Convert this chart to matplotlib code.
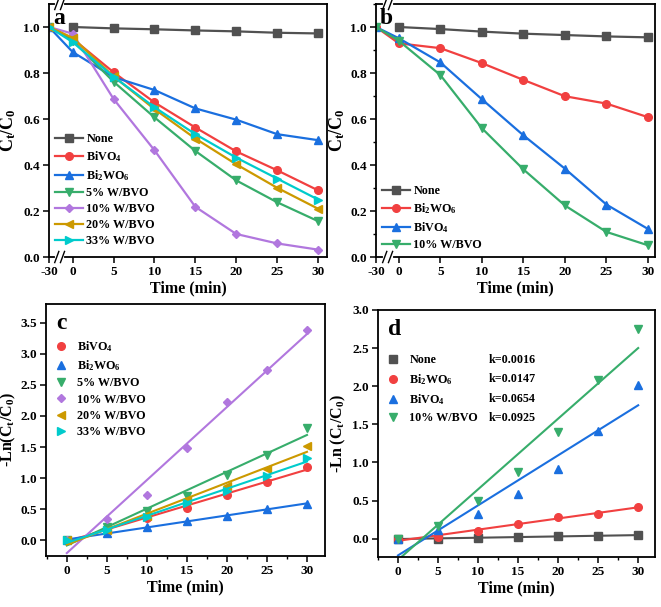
import numpy as np
import matplotlib
matplotlib.use("Agg")
import matplotlib.pyplot as plt
from matplotlib.ticker import MultipleLocator

plt.rcParams['font.family'] = 'serif'
plt.rcParams['font.serif'] = ['Liberation Serif', 'DejaVu Serif']
plt.rcParams['font.weight'] = 'bold'
plt.rcParams['axes.labelweight'] = 'bold'
plt.rcParams['mathtext.fontset'] = 'custom'
plt.rcParams['mathtext.rm'] = 'Liberation Serif:bold'
plt.rcParams['mathtext.bf'] = 'Liberation Serif:bold'
plt.rcParams['mathtext.it'] = 'Liberation Serif:bold:italic'

# ---- data ----
time_ab = [-30, 0, 5, 10, 15, 20, 25, 30]
time_cd = [0, 5, 10, 15, 20, 25, 30]
xticklabels_ab = ['-30', '0', '5', '10', '15', '20', '25', '30']

# panel a: Ct/C0 (None has no dark point at -30)
a_none = [1.0, 0.994, 0.990, 0.985, 0.981, 0.975, 0.972]
a_bivo4 = [1.0, 0.949, 0.803, 0.672, 0.563, 0.459, 0.377, 0.290]
a_bi2wo6 = [1.0, 0.891, 0.782, 0.726, 0.646, 0.597, 0.534, 0.508]
a_w5 = [1.0, 0.941, 0.762, 0.607, 0.461, 0.333, 0.238, 0.156]
a_w10 = [1.0, 0.971, 0.687, 0.464, 0.218, 0.100, 0.059, 0.032]
a_w20 = [1.0, 0.953, 0.785, 0.643, 0.515, 0.403, 0.301, 0.210]
a_w33 = [1.0, 0.934, 0.784, 0.651, 0.534, 0.432, 0.341, 0.250]

# panel b: Ct/C0
b_none = [1.0, 0.991, 0.980, 0.971, 0.965, 0.959, 0.955]
b_bi2wo6 = [1.0, 0.929, 0.908, 0.843, 0.770, 0.699, 0.667, 0.608]
b_bivo4 = [1.0, 0.951, 0.846, 0.686, 0.529, 0.384, 0.228, 0.122]
b_w10 = [1.0, 0.940, 0.791, 0.560, 0.381, 0.224, 0.109, 0.051]

# panel c: -ln(Ct/C0)
c_bivo4 = [0.0, 0.20, 0.36, 0.52, 0.73, 0.94, 1.18]
c_bi2wo6 = [0.0, 0.12, 0.21, 0.32, 0.40, 0.51, 0.58]
c_w5 = [0.0, 0.22, 0.48, 0.72, 1.05, 1.38, 1.80]
c_w10 = [0.0, 0.34, 0.73, 1.49, 2.22, 2.74, 3.38]
c_w20 = [0.0, 0.17, 0.40, 0.65, 0.87, 1.15, 1.51]
c_w33 = [0.0, 0.17, 0.38, 0.60, 0.80, 1.03, 1.32]

# panel d: -ln(Ct/C0)
d_none = [0.0, 0.0, 0.01, 0.02, 0.035, 0.04, 0.045]
d_bi2wo6 = [0.0, 0.025, 0.10, 0.19, 0.28, 0.33, 0.42]
d_bivo4 = [0.0, 0.12, 0.33, 0.58, 0.91, 1.41, 2.01]
d_w10 = [0.0, 0.17, 0.50, 0.88, 1.40, 2.08, 2.75]
d_k = ['k=0.0016', 'k=0.0147', 'k=0.0654', 'k=0.0925']

GRAY = '#515151'
RED = '#F14040'
BLUE = '#1A6FDF'
GREEN = '#37AD6B'
PURPLE = '#B177DE'
GOLD = '#CC9900'
CYAN = '#00CBCC'

W, H = 661, 607
fig = plt.figure(figsize=(W / 100, H / 100), dpi=100)

LEG_FS = 8.7


def box(l, t, r, b):
    return fig.add_axes([l / W, 1 - b / H, (r - l) / W, (b - t) / H])


def style(ax):
    for s in ax.spines.values():
        s.set_linewidth(1.3)
    ax.tick_params(direction='out', length=4, width=1.1, labelsize=9.5, pad=2.5)
    ax.tick_params(which='minor', direction='out', length=2.5, width=1)


def brk_x(t, pos):
    t = np.asarray(t, dtype=float)
    return np.where(t < 0, pos, t)


def draw_break(ax, xc):
    tr = ax.get_xaxis_transform()
    for yy in (0.0, 1.0):
        ax.plot([xc - 0.35, xc + 0.35], [yy, yy], color='white', lw=3,
                transform=tr, clip_on=False, zorder=5)
        for dx in (-0.35, 0.35):
            ax.plot([xc + dx - 0.25, xc + dx + 0.25], [yy - 0.022, yy + 0.022],
                    color='black', lw=1, transform=tr, clip_on=False, zorder=6)


# ---- panel a ----
axa = box(49, 4, 327, 257)
posa = -2.9
ta = brk_x(time_ab, posa)
kw = dict(lw=1.6, ms=5.5)
axa.plot(ta[1:], a_none, '-s', color=GRAY, label='None', **kw)
axa.plot(ta, a_bivo4, '-o', color=RED, label='BiVO$_4$', **kw)
axa.plot(ta, a_bi2wo6, '-^', color=BLUE, label='Bi$_2$WO$_6$', **kw)
axa.plot(ta, a_w5, '-v', color=GREEN, label='5% W/BVO', **kw)
axa.plot(ta, a_w10, '-D', color=PURPLE, label='10% W/BVO', lw=1.6, ms=4.5)
axa.plot(ta, a_w20, '-<', color=GOLD, label='20% W/BVO', **kw)
axa.plot(ta, a_w33, '->', color=CYAN, label='33% W/BVO', **kw)
axa.set_xlim(posa, 31.1)
axa.set_ylim(0, 1.1)
axa.set_xticks(brk_x(time_ab, posa))
axa.set_xticklabels(xticklabels_ab)
axa.set_yticks([0, 0.2, 0.4, 0.6, 0.8, 1.0])
axa.set_xlabel('Time (min)', fontsize=11.5, labelpad=2)
axa.set_ylabel('C$_\\mathrm{t}$/C$_0$', fontsize=13)
axa.yaxis.set_label_coords(-0.11, 0.5)
style(axa)
draw_break(axa, -1.6)
axa.legend(loc='lower left', bbox_to_anchor=(-0.005, 0.01), frameon=False,
           fontsize=LEG_FS, handlelength=2.3, handletextpad=0.3, labelspacing=0.34,
           borderaxespad=0.2)
axa.text(0.015, 0.985, 'a', transform=axa.transAxes, fontsize=17,
         fontweight='bold', va='top', ha='left')

# ---- panel b ----
axb = box(376, 4, 655, 257)
posb = -2.75
tb = brk_x(time_ab, posb)
axb.plot(tb[1:], b_none, '-s', color=GRAY, label='None', **kw)
axb.plot(tb, b_bi2wo6, '-o', color=RED, label='Bi$_2$WO$_6$', **kw)
axb.plot(tb, b_bivo4, '-^', color=BLUE, label='BiVO$_4$', **kw)
axb.plot(tb, b_w10, '-v', color=GREEN, label='10% W/BVO', **kw)
axb.set_xlim(posb, 30.85)
axb.set_ylim(0, 1.1)
axb.set_xticks(brk_x(time_ab, posb))
axb.set_xticklabels(xticklabels_ab)
axb.set_yticks([0, 0.2, 0.4, 0.6, 0.8, 1.0])
axb.yaxis.set_minor_locator(MultipleLocator(0.1))
axb.set_xlabel('Time (min)', fontsize=11.5, labelpad=2)
axb.set_ylabel('C$_\\mathrm{t}$/C$_0$', fontsize=13)
axb.yaxis.set_label_coords(-0.104, 0.5)
style(axb)
draw_break(axb, -1.35)
axb.legend(loc='lower left', bbox_to_anchor=(-0.005, -0.005), frameon=False,
           fontsize=LEG_FS, handlelength=2.3, handletextpad=0.3, labelspacing=0.34,
           borderaxespad=0.2)
axb.text(0.015, 0.985, 'b', transform=axb.transAxes, fontsize=17,
         fontweight='bold', va='top', ha='left')

# ---- panel c ----
axc = box(46, 304, 325, 556)
tc = np.array(time_cd, dtype=float)
xfit = np.array([0.0, 30.0])
c_series = [
    (c_bivo4, 'o', RED, 'BiVO$_4$'),
    (c_bi2wo6, '^', BLUE, 'Bi$_2$WO$_6$'),
    (c_w5, 'v', GREEN, '5% W/BVO'),
    (c_w10, 'D', PURPLE, '10% W/BVO'),
    (c_w20, '<', GOLD, '20% W/BVO'),
    (c_w33, '>', CYAN, '33% W/BVO'),
]
for y, m, col, lab in c_series:
    p = np.polyfit(tc, y, 1)
    axc.plot(xfit, np.polyval(p, xfit), '-', color=col, lw=1.5)
    axc.plot(tc, y, m, color=col, ms=5.5 if m != 'D' else 4.5, ls='none', label=lab)
axc.set_xlim(-2.6, 32.25)
axc.set_ylim(-0.25, 3.8)
axc.set_xticks(time_cd)
axc.xaxis.set_minor_locator(MultipleLocator(2.5))
axc.set_yticks(np.arange(0, 3.51, 0.5))
axc.set_xlabel('Time (min)', fontsize=11.5, labelpad=2)
axc.set_ylabel('-Ln(C$_\\mathrm{t}$/C$_0$)', fontsize=11.5)
axc.yaxis.set_label_coords(-0.10, 0.5)
style(axc)
axc.legend(loc='upper left', bbox_to_anchor=(0.0, 0.89), frameon=False,
           fontsize=LEG_FS, handlelength=1.2, handletextpad=0.8, labelspacing=0.36,
           borderaxespad=0.2)
axc.text(0.035, 0.965, 'c', transform=axc.transAxes, fontsize=17,
         fontweight='bold', va='top', ha='left')

# ---- panel d ----
axd = box(378, 310, 655, 557)
d_series = [
    (d_none, 's', GRAY, 'None'),
    (d_bi2wo6, 'o', RED, 'Bi$_2$WO$_6$'),
    (d_bivo4, '^', BLUE, 'BiVO$_4$'),
    (d_w10, 'v', GREEN, '10% W/BVO'),
]
for y, m, col, lab in d_series:
    p = np.polyfit(tc, y, 1)
    axd.plot(xfit, np.polyval(p, xfit), '-', color=col, lw=1.5)
    axd.plot(tc, y, m, color=col, ms=5.5, ls='none', label=lab)
axd.set_xlim(-2.5, 32.1)
axd.set_ylim(-0.24, 3.0)
axd.set_xticks(time_cd)
axd.xaxis.set_minor_locator(MultipleLocator(2.5))
axd.set_yticks(np.arange(0, 3.01, 0.5))
axd.set_xlabel('Time (min)', fontsize=11.5, labelpad=2)
axd.set_ylabel('-Ln (C$_\\mathrm{t}$/C$_0$)', fontsize=11.5)
axd.yaxis.set_label_coords(-0.108, 0.5)
style(axd)
legd = axd.legend(loc='upper left', bbox_to_anchor=(0.0, 0.85), frameon=False,
                  fontsize=LEG_FS, handlelength=1.2, handletextpad=0.8,
                  labelspacing=0.45, borderaxespad=0.2)
fig.canvas.draw()
# put the k values on the same rows as the legend entries
inv = axd.transAxes.inverted()
for txt, k in zip(legd.get_texts(), d_k):
    bb = txt.get_window_extent()
    yc = inv.transform(((bb.x0 + bb.x1) / 2, (bb.y0 + bb.y1) / 2))[1]
    axd.text(0.40, yc, k, transform=axd.transAxes, fontsize=LEG_FS,
             fontweight='bold', va='center', ha='left')
axd.text(0.035, 0.965, 'd', transform=axd.transAxes, fontsize=17,
         fontweight='bold', va='top', ha='left')

fig.savefig('out.png', dpi=100)
